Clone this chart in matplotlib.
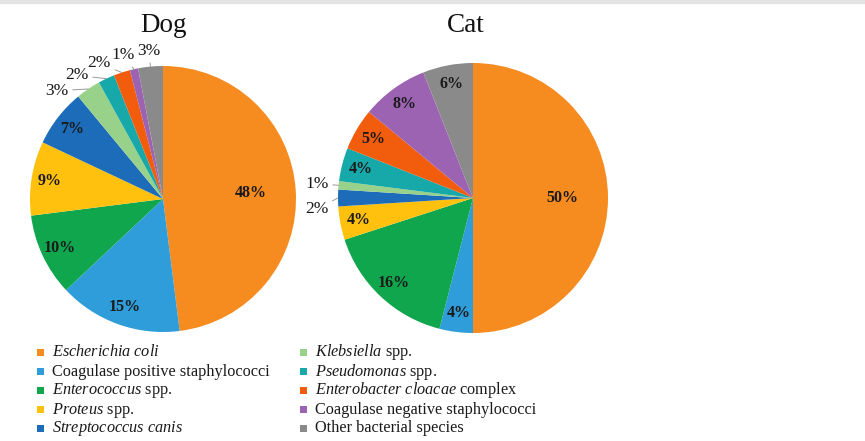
import numpy as np
import matplotlib
matplotlib.use('Agg')
import matplotlib.pyplot as plt
from matplotlib.patches import Rectangle

plt.rcParams['font.family'] = ['Liberation Serif', 'DejaVu Serif']
plt.rcParams['mathtext.fontset'] = 'custom'
plt.rcParams['mathtext.rm'] = 'Liberation Serif'
plt.rcParams['mathtext.it'] = 'Liberation Serif:italic'
plt.rcParams['mathtext.bf'] = 'Liberation Serif:bold'

# ---- data ----
species = [
    r'$\mathit{Escherichia\ coli}$',
    'Coagulase positive staphylococci',
    r'$\mathit{Enterococcus}$ spp.',
    r'$\mathit{Proteus}$ spp.',
    r'$\mathit{Streptococcus\ canis}$',
    r'$\mathit{Klebsiella}$ spp.',
    r'$\mathit{Pseudomonas}$ spp.',
    r'$\mathit{Enterobacter\ cloacae}$ complex',
    'Coagulase negative staphylococci',
    'Other bacterial species',
]
dog_pct = [48, 15, 10, 9, 7, 3, 2, 2, 1, 3]
cat_pct = [50, 4, 16, 4, 2, 1, 4, 5, 8, 6]

colors = ['#F68B1F', '#2E9DDA', '#10A64D', '#FFC10E', '#1C6CB9',
          '#98D28A', '#17A9A9', '#F25C0D', '#9C63B3', '#8A8A8A']

W, H = 865, 441


def draw_pie(ax, values, cx, cy, r, title, title_x):
    wedges, _ = ax.pie(values, colors=colors, startangle=90, counterclock=False,
                       center=(cx, cy), radius=r,
                       wedgeprops=dict(linewidth=0))
    outside = []
    for w, v in zip(wedges, values):
        mid = ((w.theta1 + w.theta2) / 2) % 360
        if v <= 3:
            outside.append((mid, v))
            continue
        f = 0.66 if v >= 40 else 0.86
        a = np.deg2rad(mid)
        ax.text(cx + f * r * np.cos(a), cy + f * r * np.sin(a), f'{v}%',
                ha='center', va='center', fontsize=11.5, fontweight='bold',
                color='#1a1a1a')

    # small slices: labels outside, spread apart along the rim
    outside.sort()
    prev = -1e9
    for mid, v in outside:
        ang = max(mid, prev + 9.5)
        prev = ang
        a0, a1 = np.deg2rad(mid), np.deg2rad(ang)
        ax.annotate(f'{v}%',
                    xy=(cx + r * np.cos(a0), cy + r * np.sin(a0)),
                    xytext=(cx + 1.16 * r * np.cos(a1), cy + 1.12 * r * np.sin(a1)),
                    ha='center', va='center', fontsize=12.5, color='#1a1a1a',
                    arrowprops=dict(arrowstyle='-', color='#9a9a9a', lw=0.7,
                                    shrinkA=1, shrinkB=0))

    ax.text(title_x, H - 25, title, ha='center', va='center', fontsize=19.5,
            color='#111111')


def draw_legend(ax):
    col_x = [52, 315]
    row_y0, row_dy = 352, 19
    for i, (lab, c) in enumerate(zip(species, colors)):
        col, row = divmod(i, 5)
        y = H - (row_y0 + row * row_dy)
        x = col_x[col]
        ax.add_patch(Rectangle((x - 15, y - 3.5), 7, 7, facecolor=c,
                               edgecolor='none'))
        ax.text(x, y - 4.5, lab, ha='left', va='baseline', fontsize=11.7,
                color='#1a1a1a')


def main():
    fig = plt.figure(figsize=(W / 100, H / 100), dpi=100)
    ax = fig.add_axes([0, 0, 1, 1])

    draw_pie(ax, dog_pct, 163, H - 199, 133, 'Dog', 164)
    draw_pie(ax, cat_pct, 473, H - 198, 135, 'Cat', 466)
    draw_legend(ax)

    ax.set_xlim(0, W)
    ax.set_ylim(0, H)
    ax.set_aspect('equal')
    ax.axis('off')

    # thin grey strip at the very top of the page
    fig.patches.append(Rectangle((0, 1 - 3 / H), 1, 3 / H,
                                 transform=fig.transFigure,
                                 color='#e3e3e3', zorder=0))

    fig.savefig('out.png', dpi=100, facecolor='white')
    plt.close(fig)


if __name__ == '__main__':
    main()
